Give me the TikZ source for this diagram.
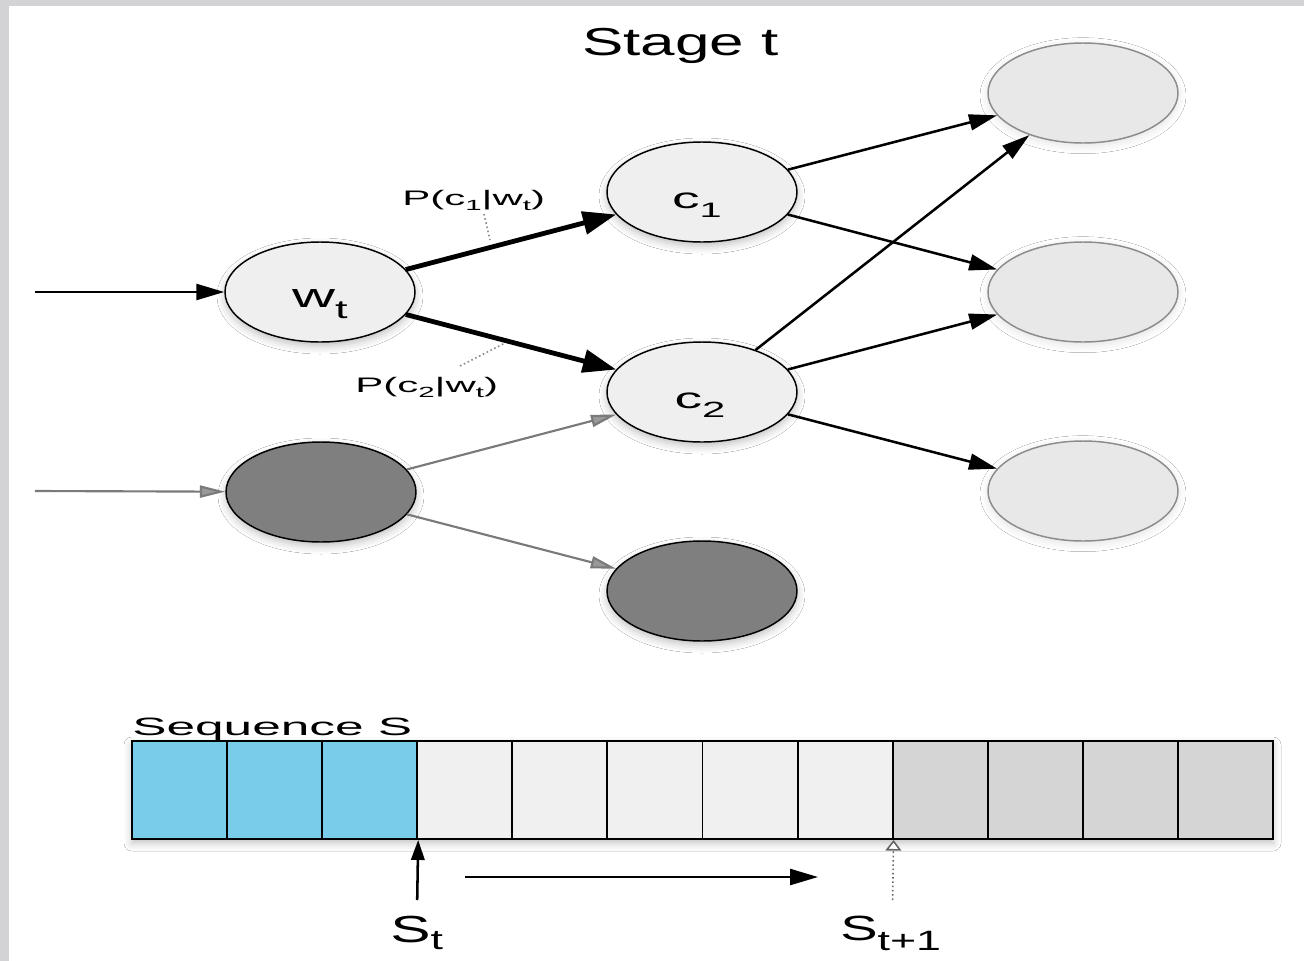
\documentclass[tikz,border=0pt]{standalone}
\usepackage{fontspec}
\setmainfont{Liberation Sans}
\usetikzlibrary{shapes.geometric,arrows.meta,shadows.blur}

% horizontally stretched text and lowered subscripts
\newcommand{\wide}[2]{\scalebox{#1}[1]{#2}}
\newcommand{\lowsub}[3]{\raisebox{-#1em}{\scalebox{#2}{#3}}}

\definecolor{framegrey}{HTML}{D3D3D5}
\definecolor{nodelight}{HTML}{EFEFEF}
\definecolor{nodefaint}{HTML}{E8E8E8}
\definecolor{nodeedge}{HTML}{8C8C8C}
\definecolor{nodedark}{HTML}{7F7F7F}
\definecolor{cellblue}{HTML}{79CDEA}
\definecolor{celllight}{HTML}{F0F0F0}
\definecolor{cellgrey}{HTML}{D5D5D5}
\definecolor{greyline}{HTML}{7A7A7A}

\begin{document}
\begin{tikzpicture}[x=0.75pt,y=-0.75pt,
  softshadow/.style={blur shadow={shadow xshift=0pt,shadow yshift=-3pt,shadow blur radius=6pt,shadow opacity=25}},
  state/.style={ellipse,minimum width=142.5pt,minimum height=75pt,inner sep=0pt,line width=1.1pt},
  lightnode/.style={state,draw=black,fill=nodelight,softshadow},
  darknode/.style={state,draw=black,fill=nodedark,softshadow},
  faintnode/.style={state,draw=nodeedge,fill=nodefaint,
    blur shadow={shadow xshift=0pt,shadow yshift=-2pt,shadow blur radius=6pt,shadow opacity=12}},
  txt/.style={inner sep=0pt,text=black},
  arr/.style={line width=1.9pt,-{Triangle[length=21pt,width=12pt]}},
  thickarr/.style={line width=3.6pt,-{Triangle[length=25pt,width=17pt]}},
  greyarr/.style={draw=greyline,line width=1.6pt,-{Triangle[length=19pt,width=9pt,fill=black!40]}},
  leader/.style={draw=black!45,dotted,line width=1.2pt},
  cell/.style={rectangle,draw=black,line width=1.4pt,minimum width=71.31pt,minimum height=73.5pt,inner sep=0pt}
]
% canvas and frame strips
\useasboundingbox (0,0) rectangle (1304,961);
\fill[white] (0,0) rectangle (1304,961);
\fill[framegrey] (0,0) rectangle (9,961);
\fill[framegrey] (0,0) rectangle (1304,6);

% title
\node[txt,anchor=base west,font=\fontsize{29.25pt}{34pt}\selectfont] (stage) at (582,55) {\wide{1.59}{Stage t}};

% states
\node[lightnode] (wt) at (320,292) {};
\node[lightnode] (c1) at (702,192) {};
\node[lightnode] (c2) at (702,392) {};
\node[darknode] (d1) at (321,492) {};
\node[darknode] (d2) at (702,591) {};
\node[faintnode] (r1) at (1083,93) {};
\node[faintnode] (r2) at (1083,292) {};
\node[faintnode] (r3) at (1083,491) {};

% state labels
\node[txt,anchor=base,font=\fontsize{25.5pt}{30pt}\selectfont] (wtlab) at (320,307) {\wide{1.75}{w\lowsub{0.33}{0.76}{t}}};
\node[txt,anchor=base,font=\fontsize{21.75pt}{26pt}\selectfont] (c1lab) at (697,208) {\wide{1.9}{c\lowsub{0.34}{0.72}{1}}};
\node[txt,anchor=base,font=\fontsize{21.75pt}{26pt}\selectfont] (c2lab) at (700,408) {\wide{1.9}{c\lowsub{0.34}{0.76}{2}}};

% transitions
\coordinate (win) at (35,292);
\draw[arr] (win) -- (wt);
\draw[thickarr] (wt) -- (c1);
\draw[thickarr] (wt) -- (c2);
\draw[arr] (c1) -- (r1);
\draw[arr] (c1) -- (r2);
\draw[arr] (c2) -- (r1);
\draw[arr] (c2) -- (r2);
\draw[arr] (c2) -- (r3);
\coordinate (din) at (35,491);
\draw[greyarr] (din) -- (d1);
\draw[greyarr] (d1) -- (c2);
\draw[greyarr] (d1) -- (d2);

% transition probabilities
\node[txt,anchor=base west,font=\fontsize{15.75pt}{18pt}\selectfont] (p1) at (402,205)
  {\wide{2}{P(c\lowsub{0.25}{0.7}{1}|w\lowsub{0.25}{0.7}{t})}};
\coordinate (p1a) at (484,214);
\coordinate (p1b) at (490,240);
\draw[leader] (p1a) -- (p1b);
\node[txt,anchor=base west,font=\fontsize{15.75pt}{18pt}\selectfont] (p2) at (355,392)
  {\wide{2}{P(c\lowsub{0.25}{0.7}{2}|w\lowsub{0.25}{0.7}{t})}};
\coordinate (p2a) at (460,366);
\coordinate (p2b) at (505,343);
\draw[leader] (p2a) -- (p2b);

% sequence bar
\node[rectangle,fill=celllight,minimum width=855.75pt,minimum height=73.5pt,inner sep=0pt,
  blur shadow={shadow xshift=0pt,shadow yshift=-3pt,shadow blur radius=6pt,shadow opacity=25}] (bar) at (702.5,790) {};
\foreach \i/\col in {1/cellblue,2/cellblue,3/cellblue,4/celllight,5/celllight,6/celllight,
                     7/celllight,8/celllight,9/cellgrey,10/cellgrey,11/cellgrey,12/cellgrey}
  \node[cell,fill=\col] (cell\i) at ({132+95.08*(\i-0.5)},790) {};
\node[txt,anchor=base west,font=\fontsize{18.8pt}{22pt}\selectfont] (seq) at (132,735) {\wide{2.05}{Sequence S}};

% current and next position markers
\node[txt,anchor=base west,font=\fontsize{28.3pt}{32pt}\selectfont] (stlab) at (390,942) {\wide{1.6}{S\lowsub{0.21}{0.74}{t}}};
\coordinate (stfoot) at (417.2,900);
\draw[line width=1.9pt,-{Triangle[length=15pt,width=10pt]}] (stfoot) -- (cell3.south east);
\coordinate (mvA) at (465,877);
\coordinate (mvB) at (818,877);
\draw[arr] (mvA) -- (mvB);
\node[txt,anchor=base west,font=\fontsize{26.25pt}{30pt}\selectfont] (st1lab) at (840,940) {\wide{1.6}{S\lowsub{0.29}{0.8}{t+1}}};
\coordinate (st1foot) at (892.6,900);
\draw[draw=black!60,dotted,line width=1.2pt,-{Triangle[open,length=8pt,width=12pt,fill=white]}] (st1foot) -- (cell8.south east);
\end{tikzpicture}
\end{document}
